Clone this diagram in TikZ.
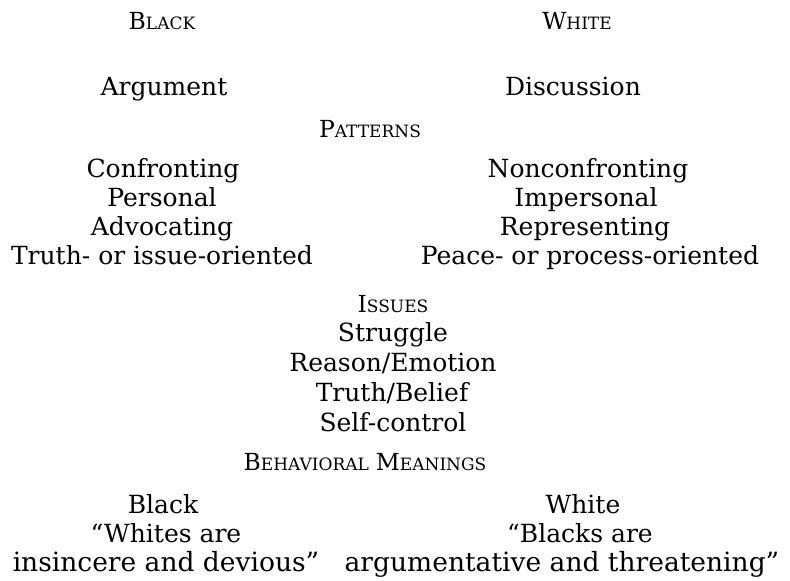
\documentclass[tikz,border=0pt]{standalone}
\usepackage{fontspec}
\setmainfont{DejaVu Serif}
\newcommand{\smcap}[2]{{\fontsize{23.5}{23.5}\selectfont #1}{\fontsize{17}{17}\selectfont #2}}
\begin{document}
\begin{tikzpicture}[x=1pt,y=-1pt,
  txt/.style={anchor=base,inner sep=0pt,font=\fontsize{25}{25}\selectfont,text=black},
  wide/.style={txt,font=\fontsize{26.5}{26.5}\selectfont},
  head/.style={anchor=base,inner sep=0pt,text=black}]
\useasboundingbox[fill=white] (0,0) rectangle (790,581);
% column headings
\node[head] (hb) at (162,29) {\smcap{B}{LACK}};
\node[head] (hw) at (577,29) {\smcap{W}{HITE}};
\node[txt] (arg) at (164,95) {Argument};
\node[txt] (dis) at (573,95) {Discussion};
% patterns
\node[head] (pat) at (370,137) {\smcap{P}{ATTERNS}};
\node[txt] (l1) at (163,177) {Confronting};
\node[txt] (l2) at (162,206) {Personal};
\node[txt] (l3) at (162,235) {Advocating};
\node[txt] (l4) at (162,264) {Truth- or issue-oriented};
\node[txt] (r1) at (588,177) {Nonconfronting};
\node[txt] (r2) at (586,206) {Impersonal};
\node[txt] (r3) at (585,235) {Representing};
\node[txt] (r4) at (590,264) {Peace- or process-oriented};
% issues
\node[head] (iss) at (393,312) {\smcap{I}{SSUES}};
\node[txt] (i1) at (393,341) {Struggle};
\node[txt] (i2) at (393,371) {Reason/Emotion};
\node[txt] (i3) at (392,401) {Truth/Belief};
\node[txt] (i4) at (393,431) {Self-control};
% behavioral meanings
\node[head] (beh) at (365,470) {\smcap{B}{EHAVIORAL}\hspace{7pt}\smcap{M}{EANINGS}};
\node[txt] (b1) at (163,513) {Black};
\node[txt] (b2) at (166,542) {“Whites are};
\node[wide] (b3) at (166,571) {insincere and devious”};
\node[txt] (w1) at (583,513) {White};
\node[txt] (w2) at (580,542) {“Blacks are};
\node[wide] (w3) at (562,571) {argumentative and threatening”};
\end{tikzpicture}
\end{document}
